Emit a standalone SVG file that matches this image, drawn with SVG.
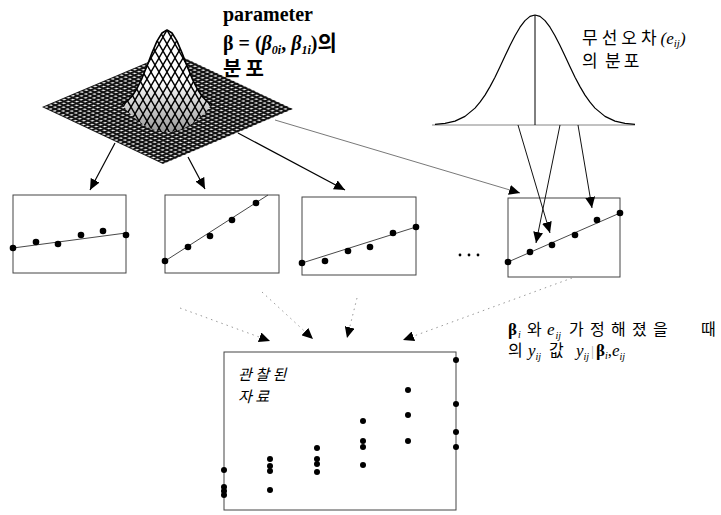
<svg xmlns="http://www.w3.org/2000/svg" width="721" height="515" viewBox="0 0 721 515">
<style>
.box{fill:none;stroke:#444;stroke-width:1}
.fit{fill:none;stroke:#333;stroke-width:0.9}
.dot{fill:#000}
.arr{fill:none;stroke:#000;stroke-width:1.2;marker-end:url(#ah)}
.arr1{fill:none;stroke:#111;stroke-width:1;marker-end:url(#ah)}
.thin{fill:none;stroke:#555;stroke-width:0.8;marker-end:url(#ah)}
.dash{fill:none;stroke:#999;stroke-width:1;stroke-dasharray:1.5 4;marker-end:url(#ah)}
.ko{font-family:"Noto Sans CJK KR","Noto Sans",sans-serif}
.ser{font-family:"Liberation Serif","Times New Roman",serif}
.it{font-style:italic}
</style>
<defs>
<marker id="ah" markerUnits="userSpaceOnUse" markerWidth="11" markerHeight="10" refX="11" refY="5" orient="auto"><path d="M0,0 L11,5 L0,10 Z" fill="#000"/></marker>
<pattern id="basemesh" patternUnits="userSpaceOnUse" width="3.4" height="3.4"><rect width="3.4" height="3.4" fill="#111"/><rect x="1" y="1" width="1.6" height="1.6" fill="#fff"/></pattern>
<pattern id="hillmesh" patternUnits="userSpaceOnUse" width="8" height="14" x="167" y="30"><rect width="8" height="14" fill="#fff"/><path d="M0,0 L8,14 M8,0 L0,14" stroke="#000" stroke-width="1.4"/></pattern>
<linearGradient id="hillshade" x1="0" y1="0" x2="0" y2="1"><stop offset="0.5" stop-color="#000" stop-opacity="0"/><stop offset="1" stop-color="#000" stop-opacity="0.4"/></linearGradient>
</defs>
<rect width="721" height="515" fill="#fff"/>

<g id="surface">
<g transform="matrix(1.21 0.57 1.30 -0.55 42 107)"><rect width="100" height="100" fill="url(#basemesh)"/></g>
<path d="M122,104.6 L127,101.4 L132,96.2 L137,88.5 L142,78.3 L147,66 L152,52.9 L157,41.1 L162,33 L167,30 L172,33 L177,41.1 L182,52.9 L187,66 L192,78.3 L197,88.5 L202,96.2 L207,101.4 L212,104.6 Q190,132 167,132 Q144,132 122,104.6 Z" fill="url(#hillmesh)"/>
<path d="M122,104.6 L127,101.4 L132,96.2 L137,88.5 L142,78.3 L147,66 L152,52.9 L157,41.1 L162,33 L167,30 L172,33 L177,41.1 L182,52.9 L187,66 L192,78.3 L197,88.5 L202,96.2 L207,101.4 L212,104.6 Q190,132 167,132 Q144,132 122,104.6 Z" fill="url(#hillshade)"/>
<path d="M122,104.6 L127,101.4 L132,96.2 L137,88.5 L142,78.3 L147,66 L152,52.9 L157,41.1 L162,33 L167,30 L172,33 L177,41.1 L182,52.9 L187,66 L192,78.3 L197,88.5 L202,96.2 L207,101.4 L212,104.6" fill="none" stroke="#000" stroke-width="1.6" stroke-linejoin="round"/>
</g>

<g id="param-label">
<text class="ser" x="223" y="21" font-size="20" font-weight="bold">parameter</text>
<text class="ser" x="223" y="50" font-size="20" font-weight="bold">β = (<tspan class="it">β</tspan><tspan class="it" font-size="12" dy="4">0i</tspan><tspan dy="-4">,  </tspan><tspan class="it">β</tspan><tspan class="it" font-size="12" dy="4">1i</tspan><tspan dy="-4">)</tspan><tspan class="ko" font-size="21">의</tspan></text>
<text class="ko" x="223" y="76" font-size="20" font-weight="bold" letter-spacing="4">분포</text>
</g>

<g id="error-dist">
<path d="M432,125 H635" fill="none" stroke="#666" stroke-width="0.8"/>
<path d="M535,15 V125" fill="none" stroke="#000" stroke-width="1"/>
<path d="M435,124.4 L445,123.4 L455,121.1 L465,116.4 L475,108.1 L480,102.2 L485,95.1 L490,86.6 L495,77.2 L500,66.8 L505,56.1 L510,45.6 L515,35.7 L520,27.2 L525,20.6 L530,16.4 L535,15 L540,16.4 L545,20.6 L550,27.2 L555,35.7 L560,45.6 L565,56.1 L570,66.8 L575,77.2 L580,86.6 L585,95.1 L590,102.2 L595,108.1 L605,116.4 L615,121.1 L625,123.4 L635,124.4" fill="none" stroke="#000" stroke-width="1.2" stroke-linejoin="round"/>
</g>

<g id="error-label">
<text class="ko" x="582" y="44" font-size="17"><tspan letter-spacing="4">무선오차</tspan><tspan class="ser it">(e</tspan><tspan class="ser it" font-size="11" dy="3">ij</tspan><tspan class="ser it" dy="-3">)</tspan><tspan x="582" y="67">의</tspan><tspan x="605" y="67" letter-spacing="3">분포</tspan></text>
</g>

<g id="plot1">
<rect class="box" x="13" y="195" width="113" height="78"/>
<path class="fit" d="M13,248 L126,233"/>
<circle class="dot" cx="13" cy="248" r="3.3"/><circle class="dot" cx="36" cy="242" r="3.3"/><circle class="dot" cx="58" cy="244" r="3.3"/><circle class="dot" cx="81" cy="235" r="3.3"/><circle class="dot" cx="103" cy="231" r="3.3"/><circle class="dot" cx="126" cy="235" r="3.3"/>
</g>
<g id="plot2">
<rect class="box" x="165" y="195" width="114" height="78"/>
<path class="fit" d="M165,261 L268,195"/>
<circle class="dot" cx="165" cy="261" r="3.3"/><circle class="dot" cx="188" cy="247" r="3.3"/><circle class="dot" cx="210" cy="236" r="3.3"/><circle class="dot" cx="232" cy="220" r="3.3"/><circle class="dot" cx="256" cy="203" r="3.3"/>
</g>
<g id="plot3">
<rect class="box" x="302" y="197" width="114" height="78"/>
<path class="fit" d="M302,263 L416,227"/>
<circle class="dot" cx="302" cy="263" r="3.3"/><circle class="dot" cx="325" cy="261" r="3.3"/><circle class="dot" cx="348" cy="251" r="3.3"/><circle class="dot" cx="370" cy="247" r="3.3"/><circle class="dot" cx="393" cy="233" r="3.3"/><circle class="dot" cx="416" cy="227" r="3.3"/>
</g>
<g id="ellipsis">
<circle class="dot" cx="460" cy="255" r="1.4"/><circle class="dot" cx="469" cy="255" r="1.4"/><circle class="dot" cx="478" cy="255" r="1.4"/>
</g>
<g id="plot4">
<rect class="box" x="508" y="198" width="112" height="79" stroke="#777"/>
<path class="fit" d="M508,262 L620,213"/>
<circle class="dot" cx="508" cy="262" r="3.3"/><circle class="dot" cx="530" cy="252" r="3.3"/><circle class="dot" cx="552" cy="245" r="3.3"/><circle class="dot" cx="575" cy="235" r="3.3"/><circle class="dot" cx="597" cy="220" r="3.3"/><circle class="dot" cx="620" cy="213" r="3.3"/>
</g>

<g id="observed">
<rect class="box" x="224" y="352" width="232" height="158"/>
<text class="ko it" x="238" y="380" font-size="15" letter-spacing="3.5">관찰된<tspan x="238" y="402">자료</tspan></text>
<circle class="dot" cx="224" cy="470" r="3"/><circle class="dot" cx="224" cy="487" r="3"/><circle class="dot" cx="224" cy="491" r="3"/><circle class="dot" cx="224" cy="495" r="3"/>
<circle class="dot" cx="270" cy="459" r="3"/><circle class="dot" cx="270" cy="466" r="3"/><circle class="dot" cx="270" cy="471" r="3"/><circle class="dot" cx="270" cy="490" r="3"/>
<circle class="dot" cx="317" cy="448" r="3"/><circle class="dot" cx="317" cy="459" r="3"/><circle class="dot" cx="317" cy="464" r="3"/><circle class="dot" cx="317" cy="472" r="3"/>
<circle class="dot" cx="363" cy="421" r="3"/><circle class="dot" cx="363" cy="441" r="3"/><circle class="dot" cx="363" cy="447" r="3"/><circle class="dot" cx="363" cy="465" r="3"/>
<circle class="dot" cx="408" cy="390" r="3"/><circle class="dot" cx="408" cy="415" r="3"/><circle class="dot" cx="408" cy="441" r="3"/>
<circle class="dot" cx="456" cy="360" r="3"/><circle class="dot" cx="456" cy="404" r="3"/><circle class="dot" cx="456" cy="432" r="3"/><circle class="dot" cx="456" cy="447" r="3"/>
</g>

<g id="note">
<text class="ser" x="508" y="335" font-size="17"><tspan font-weight="bold">β</tspan><tspan class="it" font-size="10" dx="1" dy="3">i</tspan><tspan class="ko" font-size="16" x="527" y="335">와</tspan><tspan class="it" x="547">e</tspan><tspan class="it" font-size="10" dx="1" dy="4">ij</tspan><tspan class="ko" font-size="16" x="569" y="335">가</tspan><tspan class="ko" font-size="16" x="590">정</tspan><tspan class="ko" font-size="16" x="611">해</tspan><tspan class="ko" font-size="16" x="632">졌</tspan><tspan class="ko" font-size="16" x="653">을</tspan><tspan class="ko" font-size="16" x="701">때</tspan></text>
<text class="ser" x="508" y="356" font-size="17"><tspan class="ko" font-size="16">의</tspan><tspan class="it" x="528">y</tspan><tspan class="it" font-size="10" dy="4">ij</tspan><tspan class="ko" font-size="16" x="549" y="356">값</tspan><tspan class="it" x="576">y</tspan><tspan class="it" font-size="10" dy="4">ij</tspan><tspan font-size="15" fill="#aaa" x="591" y="356">|</tspan><tspan font-weight="bold" x="596">β</tspan><tspan class="it" font-size="10" dy="3">i</tspan><tspan dy="-3">,</tspan><tspan class="it">e</tspan><tspan class="it" font-size="10" dy="4">ij</tspan></text>
</g>

<g id="connectors">
<path class="arr" d="M115,143 L90,190"/>
<path class="arr" d="M188,157 L205,189"/>
<path class="arr" d="M238,133 L345,190"/>
<path class="thin" d="M275,120 L520,193"/>
<path class="arr1" d="M518,125 L550,233"/>
<path class="arr1" d="M560,125 L536,243"/>
<path class="arr1" d="M578,125 L592,208"/>
<path class="dash" d="M180,308 L270,341"/>
<path class="dash" d="M262,292 L313,339"/>
<path class="dash" d="M357,298 L347,338"/>
<path class="dash" d="M572,278 L403,340"/>
</g>
</svg>
